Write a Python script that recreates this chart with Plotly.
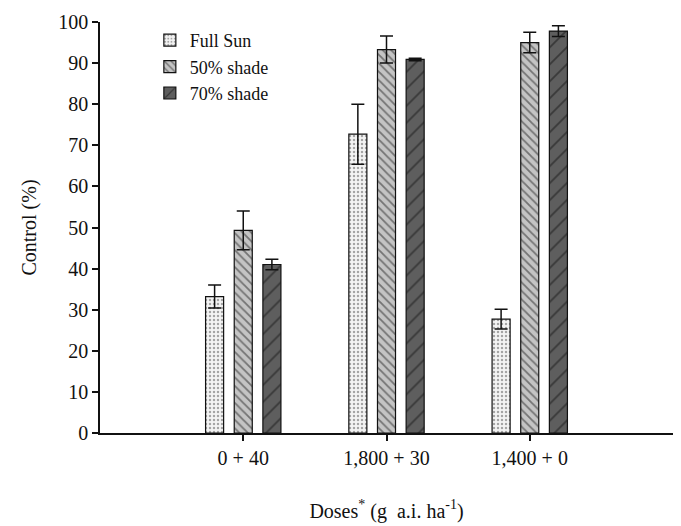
import plotly.graph_objects as go

categories = ["0 + 40", "1,800 + 30", "1,400 + 0"]
series_names = ["Full Sun", "50% shade", "70% shade"]
full_sun = [33.2, 72.7, 27.7]
full_sun_err = [2.8, 7.3, 2.4]
shade50 = [49.3, 93.3, 95.0]
shade50_err = [4.7, 3.3, 2.5]
shade70 = [41.0, 90.9, 97.8]
shade70_err = [1.3, 0.3, 1.3]
y_ticks = [0, 10, 20, 30, 40, 50, 60, 70, 80, 90, 100]

FONT = "Liberation Serif"

styles = [
    dict(bg="#f4f4f4", fg="#555555", shape=".", size=4, sol=0.3),
    dict(bg="#c4c4c4", fg="#222222", shape="\\", size=6, sol=0.3),
    dict(bg="#5e5e5e", fg="#111111", shape="/", size=12, sol=0.15),
]

fig = go.Figure()
for name, vals, errs, st in zip(series_names,
                                [full_sun, shade50, shade70],
                                [full_sun_err, shade50_err, shade70_err],
                                styles):
    fig.add_trace(go.Bar(
        x=categories, y=vals, name=name,
        marker=dict(
            color=st["bg"],
            line=dict(color="#111111", width=1.2),
            pattern=dict(shape=st["shape"], fgcolor=st["fg"], bgcolor=st["bg"],
                         size=st["size"], solidity=st["sol"], fillmode="overlay"),
        ),
        error_y=dict(type="data", array=errs, visible=True, color="#111111",
                     thickness=1.5, width=6.5),
    ))

fig.update_layout(
    width=673, height=518,
    margin=dict(l=92, r=8, t=14, b=93),
    paper_bgcolor="white", plot_bgcolor="white",
    barmode="group", bargap=0.4, bargroupgap=0.37,
    font=dict(family=FONT, size=20, color="#111111"),
    showlegend=True,
    legend=dict(x=0.087, y=1.0, xanchor="left", yanchor="top",
                bgcolor="rgba(0,0,0,0)", font=dict(size=18, family=FONT),
                tracegroupgap=0, itemwidth=30),
    xaxis=dict(
        type="category", range=[-1, 3], automargin=False,
        showline=True, linecolor="#111111", linewidth=1.5,
        ticks="outside", ticklen=6, tickcolor="#111111", tickwidth=1.5,
        showgrid=False, zeroline=False,
        tickfont=dict(size=20, family=FONT),
        title=dict(text="Doses<sup>*</sup> (g  a.i. ha<sup>-1</sup>)", standoff=36,
                   font=dict(size=20, family=FONT)),
    ),
    yaxis=dict(
        range=[0, 100], tickvals=y_ticks, automargin=False,
        showline=True, linecolor="#111111", linewidth=1.5,
        ticks="outside", ticklen=6, tickcolor="#111111", tickwidth=1.5,
        showgrid=False, zeroline=False,
        tickfont=dict(size=20, family=FONT),
        title=dict(text="Control (%)", standoff=16, font=dict(size=20, family=FONT)),
    ),
)

fig.write_html("out.html")
